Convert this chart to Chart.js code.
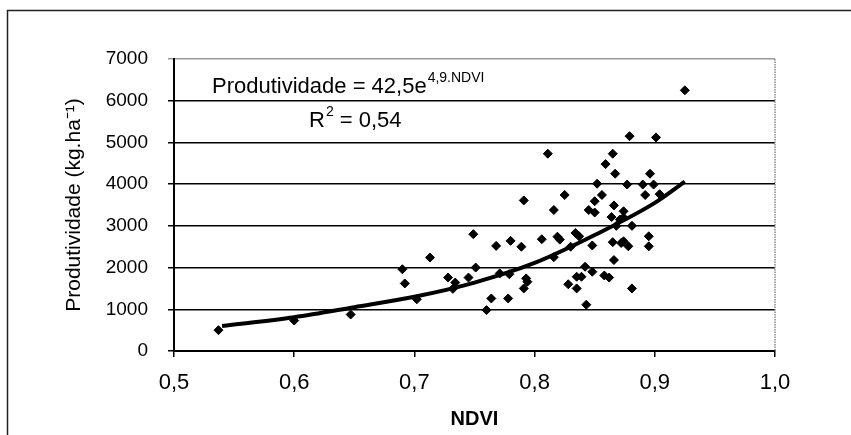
<!DOCTYPE html>
<html>
<head>
<meta charset="utf-8">
<script src="https://cdn.jsdelivr.net/npm/chart.js@4.4.1/dist/chart.umd.min.js"></script>
<style>
  html, body { margin: 0; padding: 0; background: #fff; }
  #box { width: 851px; height: 435px; position: relative; }
</style>
</head>
<body>
<div id="box"><canvas id="grafico"></canvas></div>
<script>
// pontos observados (NDVI x produtividade)
const ndvi = [
  0.537, 0.600, 0.647, 0.690, 0.692, 0.702, 0.713, 0.728, 0.732, 0.734,
  0.745, 0.749, 0.751, 0.760, 0.764, 0.768, 0.771, 0.778, 0.779, 0.780,
  0.789, 0.791, 0.791, 0.793, 0.794, 0.806, 0.811, 0.816, 0.816, 0.819,
  0.821, 0.825, 0.828, 0.830, 0.834, 0.835, 0.835, 0.837, 0.839, 0.842,
  0.843, 0.845, 0.848, 0.848, 0.850, 0.850, 0.852, 0.856, 0.858, 0.859,
  0.862, 0.864, 0.865, 0.865, 0.866, 0.867, 0.866, 0.868, 0.871, 0.872,
  0.874, 0.874, 0.874, 0.878, 0.877, 0.879, 0.881, 0.881, 0.890, 0.892,
  0.895, 0.895, 0.896, 0.899, 0.901, 0.904, 0.925
];
const produtividade = [
  500, 730, 875, 1960, 1620, 1240, 2240, 1760, 1490, 1640,
  1760, 2800, 2000, 980, 1260, 2520, 1860, 1260, 1840, 2640,
  2500, 3610, 1500, 1740, 1660, 2680, 4730, 2250, 3380, 2740,
  2670, 3740, 1600, 2500, 2830, 1780, 1500, 2750, 1780, 2020,
  1110, 3380, 1900, 2530, 3590, 3320, 4010, 3740, 1810, 4480,
  1760, 3210, 4730, 2610, 3490, 4250, 2180, 3000, 3150, 2590,
  3200, 3350, 2630, 2510, 3990, 5150, 3000, 1500, 3990, 3740,
  2750, 2510, 4250, 3990, 5120, 3760, 6250
];

// curva de tendencia
const curvaNdvi = [0.54, 0.60, 0.65, 0.70, 0.75, 0.80, 0.85, 0.90, 0.925];
const curvaProd = [600, 810, 1050, 1300, 1640, 2110, 2780, 3550, 4060];

const xMin = 0.5, xMax = 1.0, xPasso = 0.1;
const yMin = 0, yMax = 7000, yPasso = 1000;

const equacao = 'Produtividade = 42,5e';
const expoente = '4,9.NDVI';
const tituloY = 'Produtividade (kg.ha\u207B\u00B9)';
const tituloX = 'NDVI';

const FONTE = '"Liberation Sans", Arial, sans-serif';

const virgula = v => v.toFixed(1).replace('.', ',');

// moldura, borda direita pontilhada e texto da equacao
const extras = {
  id: 'extras',
  beforeDraw(chart) {
    const { ctx } = chart;
    ctx.save();
    ctx.strokeStyle = '#222';
    ctx.lineWidth = 1.5;
    ctx.beginPath();
    ctx.moveTo(7.5, 435); ctx.lineTo(7.5, 10.5); ctx.lineTo(851, 10.5);
    ctx.stroke();
    ctx.restore();
  },
  afterDraw(chart) {
    const { ctx, chartArea: a } = chart;
    ctx.save();
    ctx.strokeStyle = '#888';
    ctx.lineWidth = 1.5;
    ctx.setLineDash([1.5, 1]);
    ctx.beginPath();
    ctx.moveTo(a.right, a.top); ctx.lineTo(a.right, a.bottom);
    ctx.stroke();
    ctx.setLineDash([]);

    ctx.fillStyle = '#000';
    ctx.textBaseline = 'alphabetic';
    ctx.textAlign = 'left';
    ctx.font = '22px ' + FONTE;
    ctx.fillText(equacao, 212, 93);
    let w = ctx.measureText(equacao).width;
    ctx.font = '14px ' + FONTE;
    ctx.fillText(expoente, 212 + w + 1, 82);

    ctx.font = '22px ' + FONTE;
    ctx.fillText('R', 309, 127);
    w = ctx.measureText('R').width;
    ctx.font = '14px ' + FONTE;
    ctx.fillText('2', 309 + w + 1, 116);
    const w2 = ctx.measureText('2').width;
    ctx.font = '22px ' + FONTE;
    ctx.fillText(' = 0,54', 309 + w + w2 + 1, 127);
    ctx.restore();
  }
};

new Chart(document.getElementById('grafico'), {
  data: {
    datasets: [
      {
        type: 'line',
        data: curvaNdvi.map((x, i) => ({ x, y: curvaProd[i] })),
        borderColor: '#000',
        borderWidth: 4,
        pointRadius: 0,
        cubicInterpolationMode: 'monotone',
        fill: false,
        order: 1
      },
      {
        type: 'scatter',
        data: ndvi.map((x, i) => ({ x, y: produtividade[i] })),
        pointStyle: 'rectRot',
        pointRadius: 4.5,
        backgroundColor: '#000',
        borderColor: '#000',
        borderWidth: 1,
        order: 2
      }
    ]
  },
  options: {
    responsive: true,
    maintainAspectRatio: false,
    animation: false,
    layout: { padding: { left: 0, top: 59, right: 76, bottom: 0 } },
    plugins: { legend: { display: false }, tooltip: { enabled: false } },
    scales: {
      x: {
        type: 'linear',
        min: xMin, max: xMax,
        afterFit: s => { s.height = 84; },
        ticks: {
          stepSize: xPasso,
          color: '#000',
          font: { family: FONTE, size: 22 },
          padding: 13,
          maxRotation: 0,
          callback: v => virgula(v)
        },
        grid: { drawOnChartArea: false, drawTicks: true, tickLength: 6, color: '#000', lineWidth: 1.5 },
        border: { color: '#000', width: 2 },
        title: {
          display: true, text: tituloX, color: '#000',
          font: { family: FONTE, size: 20, weight: 'bold' },
          padding: { top: 0, bottom: 4 }
        }
      },
      y: {
        type: 'linear',
        min: yMin, max: yMax,
        afterFit: s => { s.width = 174; },
        ticks: {
          stepSize: yPasso,
          color: '#000',
          font: { family: FONTE, size: 19 },
          padding: 20,
          callback: v => String(v)
        },
        grid: {
          drawTicks: true, tickLength: 6,
          color: c => c.tick && c.tick.value === yMax ? '#999' : '#000',
          lineWidth: 1.5
        },
        border: { color: '#000', width: 2 },
        title: {
          display: true, text: tituloY, color: '#000',
          font: { family: FONTE, size: 21 },
          padding: { top: 62, bottom: 0 }
        }
      }
    }
  },
  plugins: [extras]
});
</script>
</body>
</html>
